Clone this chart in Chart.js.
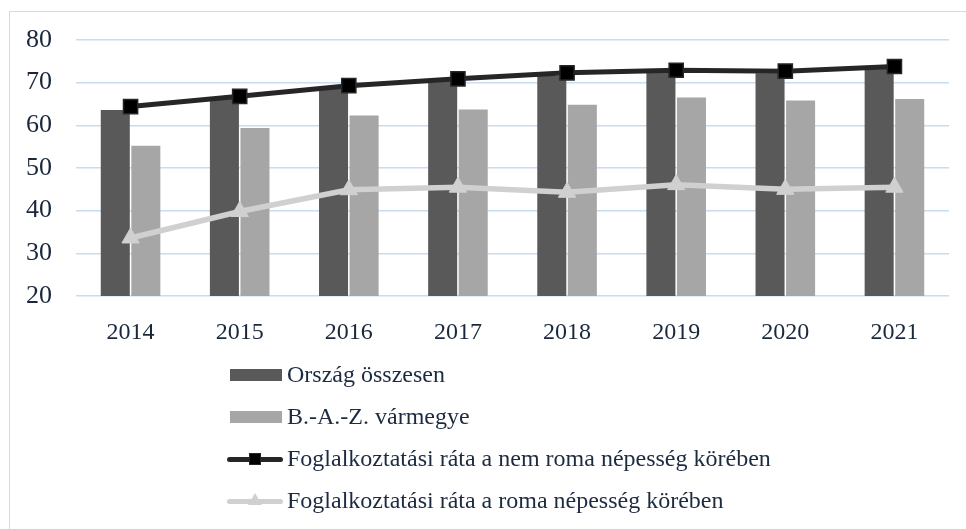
<!DOCTYPE html>
<html>
<head>
<meta charset="utf-8">
<script src="https://cdn.jsdelivr.net/npm/chart.js@4"></script>
<style>
    body { margin: 0; background: #fff; }
    #wrap { position: relative; width: 966px; height: 529px; overflow: hidden; }
    #frame { position: absolute; left: 9px; top: 11px; width: 970px; height: 530px;
             border-left: 1.5px solid #c9dcf0; border-top: 1.5px solid #c9dcf0; }
    #chartBox { position: absolute; left: 0; top: 0; width: 966px; height: 529px; }
    #legend { position: absolute; left: 0; top: 0; }
    .item { position: absolute; left: 227px; height: 30px; font-family: "Liberation Serif", "Times New Roman", serif;
            font-size: 24px; color: #1c2b40; white-space: nowrap; }
    .sym { position: absolute; left: 0; top: 50%; width: 56px; }
    .txt { position: absolute; left: 60px; top: 50%; transform: translateY(-52%); }
</style>
</head>
<body>
<div id="wrap">
    <div id="frame"></div>
    <div id="chartBox"><canvas id="chart" width="966" height="529"></canvas></div>
    <div id="legend"></div>
</div>
<script>
// --- data ---
const years = ['2014', '2015', '2016', '2017', '2018', '2019', '2020', '2021'];
const orszag = [63.6, 66.6, 69.0, 70.6, 71.6, 72.6, 72.2, 73.5];
const baz = [55.2, 59.4, 62.3, 63.7, 64.8, 66.5, 65.8, 66.2];
const nemRoma = [64.4, 66.8, 69.3, 70.9, 72.3, 72.9, 72.7, 73.8];
const roma = [33.6, 39.8, 44.9, 45.5, 44.3, 46.1, 45.0, 45.5];
const yTicks = [20, 30, 40, 50, 60, 70, 80];

const textColor = '#1a283c';
const serif = '"Liberation Serif", "Times New Roman", serif';

const ctx = document.getElementById('chart').getContext('2d');
const chart = new Chart(ctx, {
    type: 'bar',
    data: {
        labels: years,
        datasets: [
            {
                type: 'line',
                label: 'Foglalkoztatási ráta a nem roma népesség körében',
                data: nemRoma,
                borderColor: '#262626',
                borderWidth: 5,
                pointStyle: 'rect',
                pointRadius: 10,
                pointBackgroundColor: '#000',
                pointBorderColor: '#262626',
                pointBorderWidth: 1.5,
                tension: 0,
                order: 0
            },
            {
                type: 'line',
                label: 'Foglalkoztatási ráta a roma népesség körében',
                data: roma,
                borderColor: '#d0d0d0',
                borderWidth: 5.5,
                pointStyle: 'triangle',
                pointRadius: 10,
                pointBackgroundColor: '#d0d0d0',
                pointBorderColor: '#d0d0d0',
                pointBorderWidth: 1,
                tension: 0,
                order: 1
            },
            {
                label: 'Ország összesen',
                data: orszag,
                backgroundColor: '#595959',
                barPercentage: 0.95,
                categoryPercentage: 0.56,
                order: 2
            },
            {
                label: 'B.-A.-Z. vármegye',
                data: baz,
                backgroundColor: '#a6a6a6',
                barPercentage: 0.95,
                categoryPercentage: 0.56,
                order: 3
            }
        ]
    },
    options: {
        responsive: false,
        animation: false,
        layout: { padding: { left: 20, top: 40, right: 17, bottom: 188 } },
        plugins: {
            legend: { display: false },
            tooltip: { enabled: false }
        },
        scales: {
            x: {
                grid: { display: false },
                border: { display: false },
                ticks: { color: textColor, font: { family: serif, size: 24 }, padding: 14 },
                afterFit: function (scale) { scale.height = 45; }
            },
            y: {
                min: 20,
                max: 80,
                afterBuildTicks: function (scale) { scale.ticks = yTicks.map(v => ({ value: v })); },
                grid: { color: '#c9dcf0', lineWidth: 1.5, drawTicks: false },
                border: { display: false },
                ticks: { color: textColor, font: { family: serif, size: 26 }, padding: 24 },
                afterFit: function (scale) { scale.width = 56; }
            }
        }
    }
});

// --- HTML legend, one item per row like the original ---
const legendRows = [
    { ds: 2, y: 375 },
    { ds: 3, y: 417 },
    { ds: 0, y: 459 },
    { ds: 1, y: 501 }
];
const legend = document.getElementById('legend');
legendRows.forEach(function (row) {
    const ds = chart.data.datasets[row.ds];
    const item = document.createElement('div');
    item.className = 'item';
    item.style.top = (row.y - 15) + 'px';
    let sym;
    if (ds.type === 'line') {
        const col = ds.borderColor;
        let marker;
        if (ds.pointStyle === 'rect') {
            marker = '<div style="position:absolute;left:22px;top:-6px;width:12px;height:12px;background:#000;border:1.5px solid #262626;box-sizing:border-box"></div>';
        } else {
            marker = '<div style="position:absolute;left:21px;top:-8px;width:0;height:0;border-left:7px solid transparent;border-right:7px solid transparent;border-bottom:12px solid ' + col + '"></div>';
        }
        sym = '<div class="sym" style="height:0"><div style="position:absolute;left:0;top:-2.5px;width:56px;height:5px;border-radius:3px;background:' + col + '"></div>' + marker + '</div>';
    } else {
        sym = '<div class="sym" style="left:3px;width:52px;height:12px;margin-top:-6px;background:' + ds.backgroundColor + '"></div>';
    }
    item.innerHTML = sym + '<span class="txt">' + ds.label + '</span>';
    legend.appendChild(item);
});
</script>
</body>
</html>
